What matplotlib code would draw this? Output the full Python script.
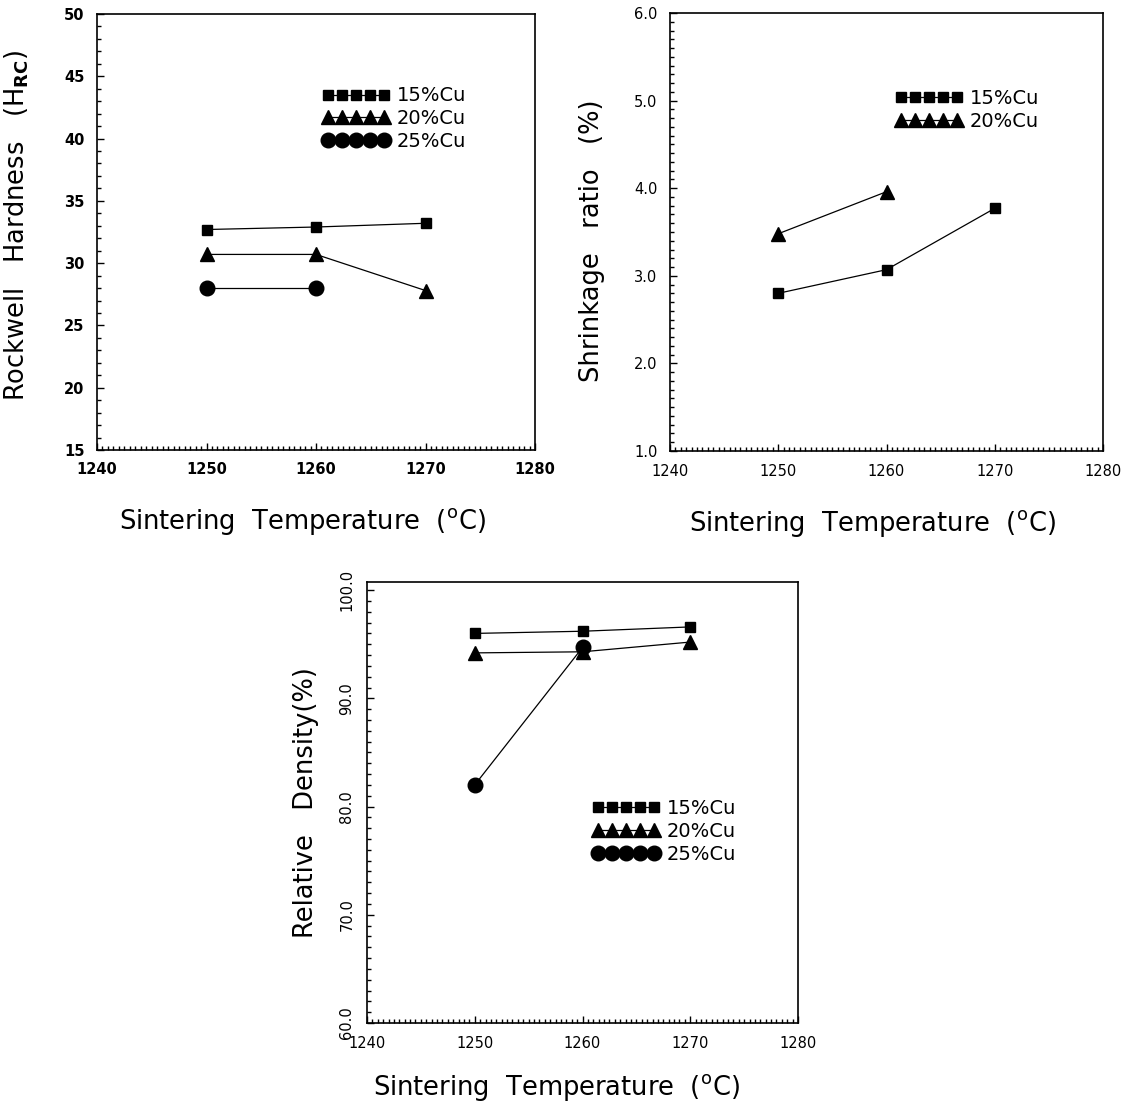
import numpy as np
import matplotlib
matplotlib.use("Agg")
import matplotlib.pyplot as plt
from matplotlib.ticker import MultipleLocator, FormatStrFormatter

# Sintering temperatures (deg C)
temps = [1250, 1260, 1270]

# Rockwell hardness (HRC)
hard_15 = [32.7, 32.9, 33.2]
hard_20 = [30.7, 30.7, 27.8]
hard_25 = [28.0, 28.0]

# Shrinkage ratio (%)
shrink_15 = [2.80, 3.07, 3.77]
shrink_20 = [3.48, 3.96]

# Relative density (%)
dens_15 = [96.0, 96.2, 96.6]
dens_20 = [94.2, 94.3, 95.2]
dens_25 = [82.0, 94.7]

labels = ["15%Cu", "20%Cu", "25%Cu"]

W, H = 1136, 1109
plt.rcParams['font.family'] = ['DejaVu Sans']


def px_axes(fig, left, right, top, bottom):
    """Add axes from pixel box of the reference picture."""
    return fig.add_axes([left / W, (H - bottom) / H, (right - left) / W, (bottom - top) / H])


def style_axes(ax, ylim, ymajor, yminor, yfmt, tick_weight="bold", yrot=0):
    ax.set_xlim(1240, 1280)
    ax.set_ylim(*ylim)
    ax.xaxis.set_major_locator(MultipleLocator(10))
    ax.xaxis.set_minor_locator(MultipleLocator(0.5))
    ax.yaxis.set_major_locator(MultipleLocator(ymajor))
    ax.yaxis.set_minor_locator(MultipleLocator(yminor))
    ax.yaxis.set_major_formatter(FormatStrFormatter(yfmt))
    ax.tick_params(which="both", direction="in", top=False, right=False, width=1.0)
    ax.tick_params(which="major", length=5, labelsize=10.5, pad=9)
    ax.tick_params(which="minor", length=3)
    for lab in ax.get_xticklabels() + ax.get_yticklabels():
        lab.set_fontweight(tick_weight)
    for lab in ax.get_yticklabels():
        lab.set_rotation(yrot)
        if yrot:
            lab.set_va("center")
    for sp in ax.spines.values():
        sp.set_linewidth(1.2)


line_kw = dict(color="black", lw=0.9)
sq = dict(marker="s", ms=6.5, **line_kw)
tri = dict(marker="^", ms=9.5, **line_kw)
cir = dict(marker="o", ms=10.5, **line_kw)

leg_kw = dict(loc="upper left", frameon=False, numpoints=5, handlelength=3.5,
              handletextpad=0.35, labelspacing=0.2, borderpad=0, borderaxespad=0,
              prop={"size": 14})

xlab = "Sintering  Temperature  ($^{\\mathrm{o}}$C)"
lab_size = 18.5

fig = plt.figure(figsize=(W / 100, H / 100), dpi=100)

# Rockwell hardness
ax1 = px_axes(fig, 97, 535, 14, 450)
ax1.plot(temps, hard_15, label=labels[0], **sq)
ax1.plot(temps, hard_20, label=labels[1], **tri)
ax1.plot(temps[:2], hard_25, label=labels[2], **cir)
style_axes(ax1, (15, 50), 5, 1, "%d")
ax1.set_xlabel(xlab, fontsize=lab_size)
ax1.set_ylabel("Rockwell   Hardness   (H$_{\\mathbf{RC}}$)", fontsize=lab_size)
ax1.xaxis.set_label_coords(0.468, -0.128)
ax1.yaxis.set_label_coords(-0.15, 0.516)
ax1.legend(bbox_to_anchor=(0.514, 0.834), **leg_kw)

# Shrinkage ratio
ax2 = px_axes(fig, 670, 1103, 13, 451)
ax2.plot(temps, shrink_15, label=labels[0], **sq)
ax2.plot(temps[:2], shrink_20, label=labels[1], **tri)
style_axes(ax2, (1.0, 6.0), 1.0, 0.1, "%.1f", tick_weight="normal")
ax2.set_xlabel(xlab, fontsize=lab_size)
ax2.set_ylabel("Shrinkage   ratio   (%)", fontsize=lab_size)
ax2.xaxis.set_label_coords(0.467, -0.13)
ax2.yaxis.set_label_coords(-0.15, 0.48)
ax2.legend(bbox_to_anchor=(0.52, 0.827), **leg_kw)

# Relative density
ax3 = px_axes(fig, 367, 798, 582, 1023)
ax3.plot(temps, dens_15, label=labels[0], **sq)
ax3.plot(temps, dens_20, label=labels[1], **tri)
ax3.plot(temps[:2], dens_25, label=labels[2], **cir)
style_axes(ax3, (60, 100.75), 10, 1, "%.1f", tick_weight="normal", yrot=90)
ax3.set_xlabel(xlab, fontsize=lab_size)
ax3.set_ylabel("Relative   Density(%)", fontsize=lab_size)
ax3.xaxis.set_label_coords(0.44, -0.11)
ax3.yaxis.set_label_coords(-0.112, 0.50)
ax3.legend(bbox_to_anchor=(0.522, 0.508), **leg_kw)

fig.savefig("out.png", dpi=100)
